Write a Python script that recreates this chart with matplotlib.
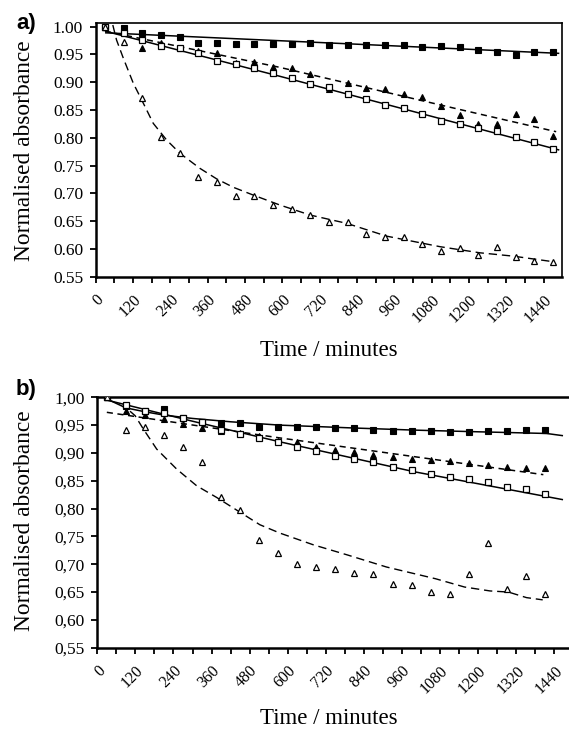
import matplotlib
matplotlib.use("Agg")
import matplotlib.pyplot as plt

# ---------------- data ----------------
time_a = [30, 90, 150, 210, 270, 330, 390, 450, 510, 570, 630, 690, 750,
          810, 870, 930, 990, 1050, 1110, 1170, 1230, 1290, 1350, 1410, 1470]
time_b = [30, 90, 150, 210, 270, 330, 390, 450, 510, 570, 630, 690, 750,
          810, 870, 930, 990, 1050, 1110, 1170, 1230, 1290, 1350, 1410]

# panel a
a_sq_filled = [1.000, 0.997, 0.988, 0.985, 0.982, 0.971, 0.971, 0.969, 0.968, 0.969,
               0.969, 0.971, 0.967, 0.967, 0.967, 0.967, 0.967, 0.963, 0.965, 0.963,
               0.958, 0.955, 0.949, 0.955, 0.955]
a_sq_open = [1.000, 0.988, 0.976, 0.966, 0.961, 0.952, 0.938, 0.932, 0.925, 0.916,
             0.907, 0.897, 0.891, 0.879, 0.870, 0.859, 0.854, 0.843, 0.831, 0.825,
             0.818, 0.813, 0.802, 0.793, 0.779]
a_tri_filled = [1.000, 0.990, 0.961, 0.970, 0.961, 0.956, 0.952, 0.934, 0.937, 0.928,
                0.925, 0.915, 0.888, 0.899, 0.889, 0.887, 0.878, 0.873, 0.857, 0.841,
                0.825, 0.824, 0.843, 0.833, 0.803]
a_tri_open = [1.000, 0.972, 0.871, 0.802, 0.772, 0.730, 0.721, 0.696, 0.696, 0.679,
              0.672, 0.661, 0.649, 0.648, 0.627, 0.621, 0.621, 0.609, 0.597, 0.601,
              0.589, 0.603, 0.585, 0.579, 0.576]

# fitted lines of panel a (as drawn)
a_fit_sq_filled_t = [30, 1490]
a_fit_sq_filled_y = [0.989, 0.952]
a_fit_sq_open_t = [30, 590, 1490]
a_fit_sq_open_y = [0.992, 0.911, 0.778]
a_fit_tri_filled_t = [30, 590, 1170, 1480]
a_fit_tri_filled_y = [0.992, 0.927, 0.851, 0.811]
a_fit_tri_open_t = [55, 67, 89, 121, 148, 185, 228, 271, 335, 389, 442, 506, 592,
                    689, 807, 935, 1107, 1235, 1342, 1470]
a_fit_tri_open_y = [1.003, 0.976, 0.943, 0.898, 0.868, 0.826, 0.796, 0.772, 0.745,
                    0.726, 0.711, 0.697, 0.679, 0.661, 0.646, 0.623, 0.604, 0.593,
                    0.587, 0.577]

# panel b
b_sq_filled = [1.000, 0.985, 0.975, 0.979, 0.962, 0.956, 0.953, 0.953, 0.947, 0.946,
               0.947, 0.947, 0.944, 0.944, 0.942, 0.940, 0.939, 0.939, 0.937, 0.937,
               0.939, 0.939, 0.941, 0.942]
b_sq_open = [1.000, 0.987, 0.976, 0.972, 0.962, 0.956, 0.941, 0.934, 0.926, 0.920,
             0.910, 0.903, 0.895, 0.890, 0.883, 0.875, 0.869, 0.863, 0.857, 0.853,
             0.847, 0.838, 0.835, 0.826]
b_tri_filled = [1.000, 0.976, 0.968, 0.961, 0.952, 0.945, 0.940, 0.935, 0.930, 0.922,
                0.919, 0.910, 0.905, 0.902, 0.896, 0.892, 0.890, 0.887, 0.885, 0.882,
                0.879, 0.875, 0.873, 0.873]
b_tri_open = [1.000, 0.941, 0.946, 0.933, 0.910, 0.884, 0.821, 0.798, 0.743, 0.721,
              0.701, 0.695, 0.691, 0.685, 0.682, 0.665, 0.663, 0.650, 0.647, 0.683,
              0.739, 0.655, 0.678, 0.647]

# fitted lines of panel b (as drawn)
b_fit_sq_filled_t = [30, 90, 150, 210, 300, 420, 575, 800, 1000, 1200, 1415, 1467]
b_fit_sq_filled_y = [0.997, 0.981, 0.974, 0.968, 0.962, 0.956, 0.950, 0.945, 0.941,
                     0.938, 0.935, 0.931]
b_fit_sq_open_t = [30, 300, 575, 1000, 1467]
b_fit_sq_open_y = [0.995, 0.957, 0.920, 0.866, 0.816]
b_fit_tri_filled_t = [30, 575, 1405]
b_fit_tri_filled_y = [0.973, 0.927, 0.861]
b_fit_tri_open_t = [103, 119, 145, 187, 250, 313, 376, 512, 575, 680, 786, 911, 1065,
                    1157, 1237, 1295, 1352, 1403]
b_fit_tri_open_y = [0.975, 0.967, 0.943, 0.907, 0.871, 0.841, 0.820, 0.771, 0.756,
                    0.735, 0.717, 0.695, 0.674, 0.659, 0.652, 0.650, 0.640, 0.636]

x_ticks = list(range(0, 1441, 60))
x_ticklabels = [str(v) if v % 120 == 0 else "" for v in x_ticks]
y_ticks = [0.55, 0.60, 0.65, 0.70, 0.75, 0.80, 0.85, 0.90, 0.95, 1.00]

SERIF = "Liberation Serif"
W, H = 569, 734
fig = plt.figure(figsize=(W / 100, H / 100), dpi=100)


def px_axes(left, top, right, bottom):
    return fig.add_axes([left / W, 1 - bottom / H, (right - left) / W, (bottom - top) / H])


ax_a = px_axes(95.7, 23.3, 562.4, 276.7)
ax_b = px_axes(97.3, 397.3, 573.5, 647.7)


def draw_panel(ax, t, sqf, sqo, trf, tro, fits, ytop, decimal):
    # fitted lines
    for (ft, fy, style) in fits:
        if style == "solid":
            ax.plot(ft, fy, color="black", lw=1.1, solid_capstyle="butt", zorder=2)
        elif style == "dash_long":
            ax.plot(ft, fy, color="black", lw=1.0, dashes=(6, 3.5), zorder=2)
        else:
            ax.plot(ft, fy, color="black", lw=1.1, dashes=(4, 3), zorder=2)
    ms_s, ms_t = 4.3, 5.0
    ax.plot(t, sqf, ls="none", marker="s", ms=ms_s, mfc="black", mec="black", mew=0.8, zorder=3)
    ax.plot(t, trf, ls="none", marker="^", ms=ms_t, mfc="black", mec="black", mew=0.8, zorder=3)
    ax.plot(t, sqo, ls="none", marker="s", ms=ms_s, mfc="white", mec="black", mew=0.9, zorder=4)
    ax.plot(t, tro, ls="none", marker="^", ms=ms_t, mfc="white", mec="black", mew=0.9, zorder=4)

    ax.set_xlim(0, 1500)
    ax.set_ylim(0.55, ytop)
    ax.set_xticks(x_ticks)
    ax.set_xticklabels(x_ticklabels, rotation=45, ha="right", va="top",
                       rotation_mode="anchor", fontfamily=SERIF, fontsize=11.5)
    ax.set_yticks(y_ticks)
    ylabels = ["%.2f" % v for v in y_ticks]
    if decimal == ",":
        ylabels = [s.replace(".", ",") for s in ylabels]
    ax.set_yticklabels(ylabels, fontfamily=SERIF, fontsize=12.5)
    ax.tick_params(axis="both", direction="out", length=4, width=1.3, color="black")
    ax.tick_params(axis="y", pad=5)
    ax.tick_params(axis="x", pad=7)
    for s in ax.spines.values():
        s.set_color("black")


draw_panel(ax_a, time_a, a_sq_filled, a_sq_open, a_tri_filled, a_tri_open,
           [(a_fit_sq_filled_t, a_fit_sq_filled_y, "solid"),
            (a_fit_sq_open_t, a_fit_sq_open_y, "solid"),
            (a_fit_tri_filled_t, a_fit_tri_filled_y, "dash_short"),
            (a_fit_tri_open_t, a_fit_tri_open_y, "dash_long")],
           1.0061, ".")
draw_panel(ax_b, time_b, b_sq_filled, b_sq_open, b_tri_filled, b_tri_open,
           [(b_fit_sq_filled_t, b_fit_sq_filled_y, "solid"),
            (b_fit_sq_open_t, b_fit_sq_open_y, "solid"),
            (b_fit_tri_filled_t, b_fit_tri_filled_y, "dash_short"),
            (b_fit_tri_open_t, b_fit_tri_open_y, "dash_long")],
           1.00, ",")

ax_a.spines["left"].set_linewidth(1.8)
ax_a.spines["bottom"].set_linewidth(1.8)
ax_a.spines["top"].set_linewidth(1.2)
ax_a.spines["right"].set_linewidth(1.2)
for k in ["left", "bottom", "top"]:
    ax_b.spines[k].set_linewidth(1.8)
ax_b.spines["right"].set_visible(False)

# axis titles
for (ax, yc_label, y_xlabel) in [(ax_a, 151, 350), (ax_b, 521, 718)]:
    fig.text(25 / W, 1 - yc_label / H, "Normalised absorbance", rotation=90,
             ha="center", va="center", fontfamily=SERIF, fontsize=16.8)
    fig.text(329 / W, 1 - y_xlabel / H, "Time / minutes",
             ha="center", va="center", fontfamily=SERIF, fontsize=16.5)

fig.text(26 / W, 1 - 24 / H, "a)", ha="center", va="center",
         fontfamily="Liberation Sans", fontweight="bold", fontsize=16)
fig.text(26 / W, 1 - 390 / H, "b)", ha="center", va="center",
         fontfamily="Liberation Sans", fontweight="bold", fontsize=16)

fig.savefig("out.png", dpi=100)
